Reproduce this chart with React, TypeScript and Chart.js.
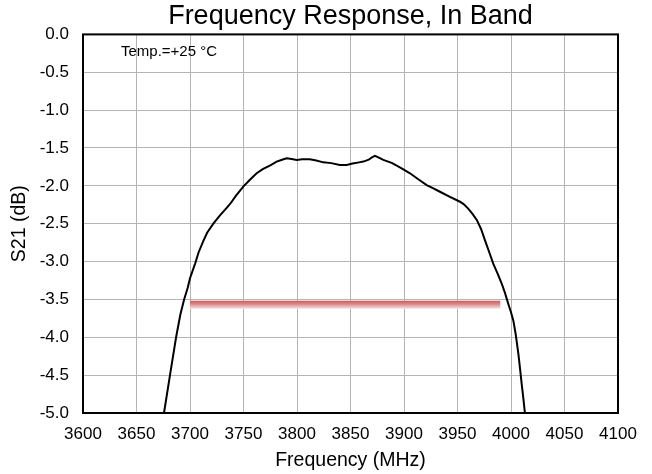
import React, { useEffect, useRef } from "react";
import { Chart, registerables } from "chart.js";

Chart.register(...registerables);

const freqMHz = [
  3674.5, 3675.7, 3681.3, 3687.0, 3691.0, 3694.5, 3697.8, 3700.0, 3704.7, 3708.0,
  3712.4, 3716.0, 3721.8, 3728.0, 3734.3, 3738.0, 3743.0, 3749.8, 3756.0, 3762.3,
  3768.0, 3775.0, 3781.0, 3786.0, 3790.3, 3795.0, 3799.7, 3805.0, 3812.0, 3818.0,
  3824.6, 3832.0, 3840.0, 3846.4, 3852.0, 3858.0, 3862.0, 3867.0, 3870.0, 3872.9,
  3876.0, 3880.7, 3889.0, 3897.8, 3905.6, 3913.0, 3921.2, 3927.0, 3933.6, 3942.0,
  3952.3, 3956.0, 3960.0, 3964.0, 3968.0, 3972.0, 3975.7, 3979.5, 3983.5, 3987.5,
  3991.3, 3994.5, 3997.5, 4000.0, 4002.2, 4004.5, 4006.9, 4008.5, 4010.0, 4011.5,
  4013.0, 4013.5,
];
const s21dB = [
  -5.1, -5.0, -4.5, -4.0, -3.7, -3.5, -3.35, -3.22, -3.03, -2.88,
  -2.73, -2.62, -2.5, -2.39, -2.29, -2.23, -2.13, -2.01, -1.92, -1.834,
  -1.78, -1.73, -1.68, -1.655, -1.636, -1.645, -1.658, -1.65, -1.649, -1.665,
  -1.69, -1.7, -1.724, -1.724, -1.705, -1.69, -1.68, -1.655, -1.625, -1.605,
  -1.625, -1.658, -1.7, -1.768, -1.834, -1.91, -1.99, -2.03, -2.078, -2.14,
  -2.21, -2.245, -2.3, -2.37, -2.45, -2.57, -2.72, -2.87, -3.03, -3.16,
  -3.29, -3.42, -3.56, -3.67, -3.78, -3.97, -4.22, -4.42, -4.62, -4.8,
  -5.0, -5.1,
];
const specX = [3700, 3990];
const specY = [-3.57, -3.57];

const xTicks = [3600, 3650, 3700, 3750, 3800, 3850, 3900, 3950, 4000, 4050, 4100];
const yTicks = [0, -0.5, -1, -1.5, -2, -2.5, -3, -3.5, -4, -4.5, -5];

const titleText = "Frequency Response, In Band";
const xTitle = "Frequency (MHz)";
const yTitle = "S21 (dB)";
const noteText = "Temp.=+25 °C";

const FONT = "'Liberation Sans', Arial, sans-serif";

export default function App() {
  const ref = useRef<HTMLCanvasElement | null>(null);

  useEffect(() => {
    if (!ref.current) return;
    const framePlugin = {
      id: "frame",
      beforeDraw(chart: any) {
        const c = chart.ctx;
        c.save();
        c.fillStyle = "#ffffff";
        c.fillRect(0, 0, chart.width, chart.height);
        c.restore();
      },
      afterDraw(chart: any) {
        const { ctx: c, chartArea: a } = chart;
        c.save();
        c.strokeStyle = "#000000";
        c.lineWidth = 2;
        c.strokeRect(a.left, a.top, a.right - a.left, a.bottom - a.top);
        c.fillStyle = "#000000";
        c.font = `15px ${FONT}`;
        c.textBaseline = "middle";
        c.textAlign = "left";
        c.fillText(noteText, a.left + 38, a.top + 17);
        c.restore();
      },
    };

    const chart = new Chart(ref.current, {
      type: "line",
      data: {
        datasets: [
          {
            data: specX.map((x, i) => ({ x, y: specY[i] })),
            borderWidth: 8,
            borderCapStyle: "butt",
            pointRadius: 0,
            borderColor: (ctx: any) => {
              const ch = ctx.chart;
              const ys = ch.scales && ch.scales.y;
              if (!ch.chartArea || !ys) return "#d07070";
              const yc = ys.getPixelForValue(specY[0]);
              if (!isFinite(yc)) return "#d07070";
              const g = ch.ctx.createLinearGradient(0, yc - 4, 0, yc + 4);
              g.addColorStop(0, "#c85c5c");
              g.addColorStop(0.4, "#d98686");
              g.addColorStop(1, "#f8e2e2");
              return g;
            },
            order: 2,
          },
          {
            data: freqMHz.map((x, i) => ({ x, y: s21dB[i] })),
            borderColor: "#000000",
            borderWidth: 2,
            pointRadius: 0,
            tension: 0,
            order: 1,
          },
        ],
      },
      options: {
        animation: false,
        responsive: true,
        maintainAspectRatio: false,
        layout: { padding: { left: 0, right: 34, top: 0, bottom: 0 } },
        plugins: {
          legend: { display: false },
          tooltip: { enabled: false },
          title: {
            display: true,
            text: titleText,
            fullSize: false,
            color: "#000000",
            font: { family: FONT, size: 27, weight: "normal" },
            padding: { top: 0, bottom: 2 },
          },
        },
        scales: {
          x: {
            type: "linear",
            min: 3600,
            max: 4100,
            afterBuildTicks: (s: any) => {
              s.ticks = xTicks.map((v) => ({ value: v }));
            },
            afterFit: (s: any) => {
              s.height = 61;
            },
            ticks: {
              color: "#000000",
              font: { family: FONT, size: 17 },
              padding: 11,
              maxRotation: 0,
              autoSkip: false,
              callback: (v: any) => String(v),
            },
            grid: { color: "#b4b4b4", lineWidth: 1, drawTicks: false },
            border: { display: false },
            title: {
              display: true,
              text: xTitle,
              color: "#000000",
              font: { family: FONT, size: 19.5 },
              padding: { top: 0, bottom: 2 },
            },
          },
          y: {
            type: "linear",
            min: -5,
            max: 0,
            afterBuildTicks: (s: any) => {
              s.ticks = yTicks.map((v) => ({ value: v }));
            },
            afterFit: (s: any) => {
              s.width = 83;
            },
            ticks: {
              color: "#000000",
              font: { family: FONT, size: 17 },
              padding: 14,
              autoSkip: false,
              callback: (v: any) => Number(v).toFixed(1),
            },
            grid: { color: "#b4b4b4", lineWidth: 1, drawTicks: false },
            border: { display: false },
            title: {
              display: true,
              text: yTitle,
              color: "#000000",
              font: { family: FONT, size: 19.5 },
              padding: { top: 8, bottom: 0 },
            },
          },
        },
      },
      plugins: [framePlugin],
    } as any);
    return () => chart.destroy();
  }, []);

  return (
    <div style={{ position: "fixed", left: 0, top: 0, width: 652, height: 474, background: "#fff" }}>
      <canvas ref={ref} />
    </div>
  );
}
